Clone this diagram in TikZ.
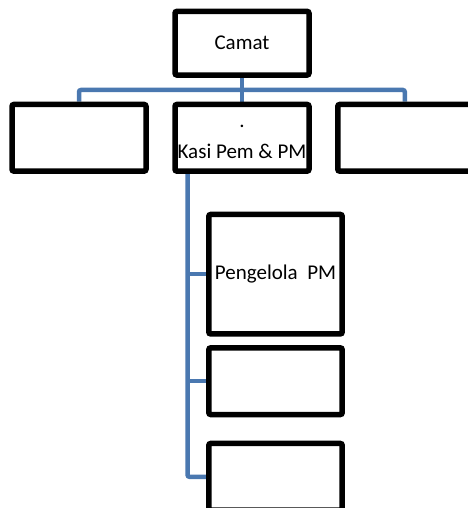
\documentclass[tikz,border=0pt]{standalone}
\usepackage{fontspec}
\setmainfont{Carlito}
\usetikzlibrary{backgrounds}
\definecolor{linkblue}{RGB}{74,120,176}
\tikzstyle{unit}=[draw,line width=5.5pt,rounded corners=2pt,inner sep=0pt,minimum width=134pt,minimum height=66.7pt,align=center,font=\fontsize{21}{31}\selectfont]
\tikzstyle{link}=[draw=linkblue,line width=4.5pt,rounded corners=2pt]

\begin{document}
\begin{tikzpicture}[x=1pt,y=-1pt]
\useasboundingbox (0,0) rectangle (467,508);

\node[unit, minimum height=63.7pt] (camat) at (242, 43.2) {Camat};
\node[unit] (left)  at (79, 137.8)  {};
\node[unit, text height=47pt, text depth=5pt] (kasi) at (242, 137.8) {.\\Kasi Pem \& PM};
\node[unit] (right) at (404.8, 137.8) {};
\node[unit, minimum width=133.4pt, minimum height=119.5pt] (pengelola) at (275.5, 274.2) {Pengelola\ \ PM};
\node[unit, minimum width=133.4pt] (staf1) at (275.5, 381.2) {};
\node[unit, minimum width=133.4pt] (staf2) at (275.5, 476.8) {};

\coordinate (bus) at (242, 90);
\coordinate (spine) at (187.5, 171.2);

\begin{pgfonlayer}{background}
\draw[link] (camat) -- (kasi);
\draw[link] (left.north) |- (bus) -| (right.north);
\draw[link] (spine) |- (staf2.west);
\draw[link] (spine |- pengelola.west) -- (pengelola.west);
\draw[link] (spine |- staf1.west) -- (staf1.west);
\end{pgfonlayer}
\end{tikzpicture}
\end{document}
